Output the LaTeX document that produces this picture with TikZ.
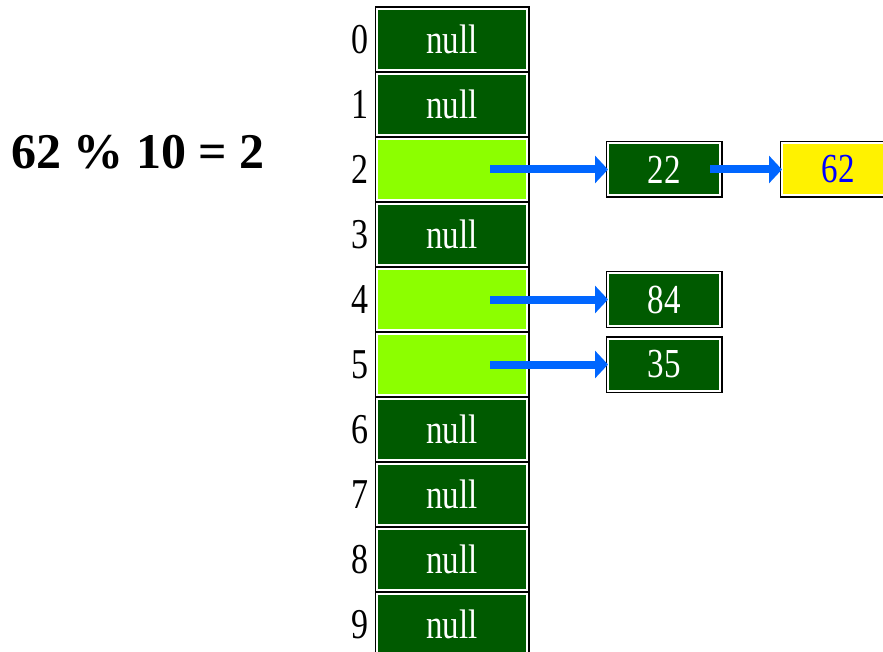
\documentclass[tikz,border=0pt]{standalone}
\usepackage{fontspec}
\setmainfont{Liberation Serif}
\usepackage{graphicx}
\usetikzlibrary{arrows.meta}
\definecolor{darkcell}{RGB}{0,90,0}
\definecolor{fullcell}{RGB}{140,255,0}
\definecolor{linkblue}{RGB}{0,102,255}
\newcommand{\tall}[1]{\scalebox{1}[1.25]{#1}}
\tikzstyle{slot} = [rectangle,outer sep=0pt,inner sep=0pt,
    minimum width=150pt,minimum height=61pt,fill=darkcell,draw=white,line width=2pt,
    preaction={draw=black,line width=5pt},text=white,font=\fontsize{33}{33}\selectfont
]
\tikzstyle{fullslot} = [slot,fill=fullcell]
\tikzstyle{entry} = [slot,minimum width=112pt,minimum height=52pt]
\tikzstyle{newentry} = [entry,fill=yellow,text=blue]
\tikzstyle{index} = [inner sep=0pt,font=\fontsize{34}{34}\selectfont]
\tikzstyle{link} = [line width=8pt,color=linkblue,-{Triangle[length=13pt,width=27pt]}]
\newcommand{\nextslot}[4]{
	\node(cell#2) at (cell#1.south) [#3, anchor=north, yshift=-4pt] {#4};
	\node(idx#2) at (cell#2.west) [index, anchor=east, xshift=-8pt] {\tall{#2}};
}

\begin{document}
\begin{tikzpicture}[x=1pt,y=-1pt]
	\useasboundingbox (0,0) rectangle (883,652);

	\node(cell0) at (452,39.5) [slot] {\tall{null}};
	\node(idx0) at (cell0.west) [index, anchor=east, xshift=-8pt] {\tall{0}};
	\nextslot{0}{1}{slot}{\tall{null}}
	\nextslot{1}{2}{fullslot}{}
	\nextslot{2}{3}{slot}{\tall{null}}
	\nextslot{3}{4}{fullslot}{}
	\nextslot{4}{5}{fullslot}{}
	\nextslot{5}{6}{slot}{\tall{null}}
	\nextslot{6}{7}{slot}{\tall{null}}
	\nextslot{7}{8}{slot}{\tall{null}}
	\nextslot{8}{9}{slot}{\tall{null}}

	% chained keys
	\node(k22) at (cell2.east) [entry, anchor=west, xshift=81pt] {\tall{22}};
	\node(k62) at (k22.east) [newentry, anchor=west, xshift=62pt] {\tall{62}};
	\node(k84) at (cell4.east) [entry, anchor=west, xshift=81pt] {\tall{84}};
	\node(k35) at (cell5.east) [entry, anchor=west, xshift=81pt] {\tall{35}};

	\coordinate(ptr2) at ([xshift=38pt]cell2.center);
	\coordinate(ptr4) at ([xshift=38pt]cell4.center);
	\coordinate(ptr5) at ([xshift=38pt]cell5.center);
	\coordinate(ptr22) at ([xshift=-10pt]k22.east);
	\draw[link] (ptr2) -- (k22);
	\draw[link] (ptr22) -- (k62);
	\draw[link] (ptr4) -- (k84);
	\draw[link] (ptr5) -- (k35);

	\node(rule) at (138,152) [font=\fontsize{50}{50}\selectfont\bfseries] {62 \% 10 = 2};
\end{tikzpicture}
\end{document}
